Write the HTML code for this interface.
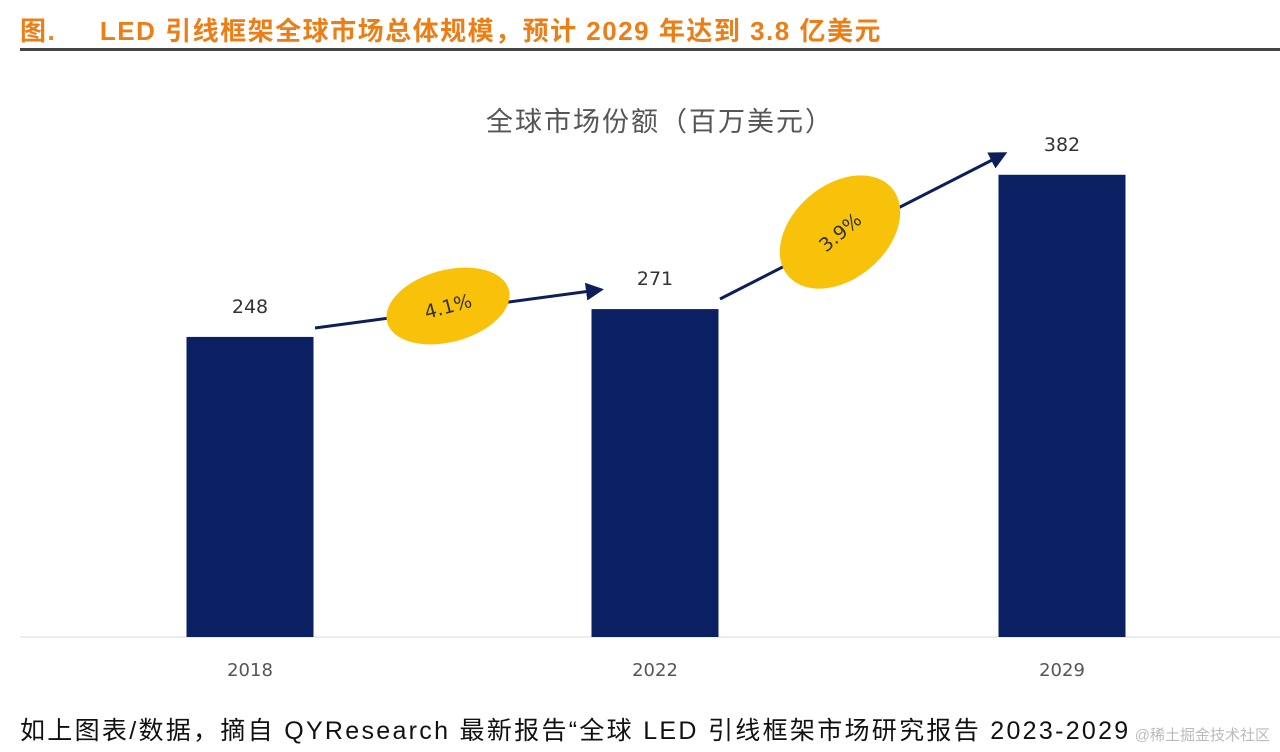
<!DOCTYPE html>
<html><head><meta charset="utf-8"><style>
body{margin:0;width:1280px;height:752px;background:#fff;overflow:hidden;font-family:"Liberation Sans","Noto Sans CJK SC",sans-serif}
#title{position:absolute;left:20px;top:11px;font-size:26px;font-weight:bold;color:#ED7D15;white-space:nowrap;letter-spacing:1.5px}
#rule{position:absolute;left:20px;top:48px;width:1260px;height:3px;background:#444}
#foot{position:absolute;left:20px;top:711px;font-size:25px;color:#111;white-space:nowrap;letter-spacing:2.3px}
#wm{position:absolute;right:10px;top:724px;font-size:15px;color:#bbb}
</style></head><body>
<div id="title">图.&nbsp;&nbsp;&nbsp;&nbsp;&nbsp;LED 引线框架全球市场总体规模，预计 2029 年达到 3.8 亿美元</div>
<div id="rule"></div>
<svg id="chart" width="1280" height="752" style="position:absolute;left:0;top:0">
<defs><marker id="ah" markerWidth="6" markerHeight="6" refX="4" refY="3" orient="auto" markerUnits="strokeWidth"><path d="M0,0 L6,3 L0,6 z" fill="#0E1E5B"/></marker></defs>
<text x="660" y="131" text-anchor="middle" font-size="27" letter-spacing="2" fill="#555" font-family="Liberation Sans,Noto Sans CJK SC,sans-serif">全球市场份额（百万美元）</text>
<line x1="20" y1="637" x2="1280" y2="637" stroke="#d9d9d9" stroke-width="1"/>
<g id="bars"></g>
<line x1="315" y1="328" x2="598" y2="290" stroke="#0E1E5B" stroke-width="3" marker-end="url(#ah)"/>
<line x1="720" y1="299" x2="1002" y2="155" stroke="#0E1E5B" stroke-width="3" marker-end="url(#ah)"/>
<g transform="translate(448,306) rotate(-15)">
<ellipse rx="63" ry="36" fill="#F9C20A"/><text y="7" text-anchor="middle" font-size="19" fill="#333" font-family="DejaVu Sans,sans-serif">4.1%</text></g>
<g transform="translate(840,232) rotate(-40)">
<ellipse rx="68" ry="47" fill="#F9C20A"/><text y="7" text-anchor="middle" font-size="19" fill="#333" font-family="DejaVu Sans,sans-serif">3.9%</text></g>
</svg>
<div id="foot">如上图表/数据，摘自 QYResearch 最新报告“全球 LED 引线框架市场研究报告 2023-2029</div>
<div id="wm">@稀土掘金技术社区</div>
<script>
const categories=["2018","2022","2029"];
const values=[248,271,382];
const labels=["248","271","382"];
const base=637, scale=1.21, barW=127, centers=[250,655,1062];
function y(v){return base-v*scale;}
const g=document.getElementById('bars');
const ns="http://www.w3.org/2000/svg";
categories.forEach((c,i)=>{
 const r=document.createElementNS(ns,'rect');
 r.setAttribute('x',centers[i]-barW/2);r.setAttribute('y',y(values[i]));
 r.setAttribute('width',barW);r.setAttribute('height',base-y(values[i]));
 r.setAttribute('fill','#0B1F63');
 
 
 g.appendChild(r);
 const t=document.createElementNS(ns,'text');
 t.setAttribute('x',centers[i]);t.setAttribute('y',y(values[i])-24);
 t.setAttribute('text-anchor','middle');t.setAttribute('font-size','19');t.setAttribute('fill','#333');
 t.setAttribute('font-family','DejaVu Sans,sans-serif');
 t.textContent=labels[i];
 
 
 g.appendChild(t);
 const x=document.createElementNS(ns,'text');
 x.setAttribute('x',centers[i]);x.setAttribute('y',676);
 x.setAttribute('text-anchor','middle');x.setAttribute('font-size','18');x.setAttribute('fill','#555');
 x.setAttribute('font-family','DejaVu Sans,sans-serif');
 x.textContent=c;
 
 
 g.appendChild(x);
});
</script>
</body></html>
